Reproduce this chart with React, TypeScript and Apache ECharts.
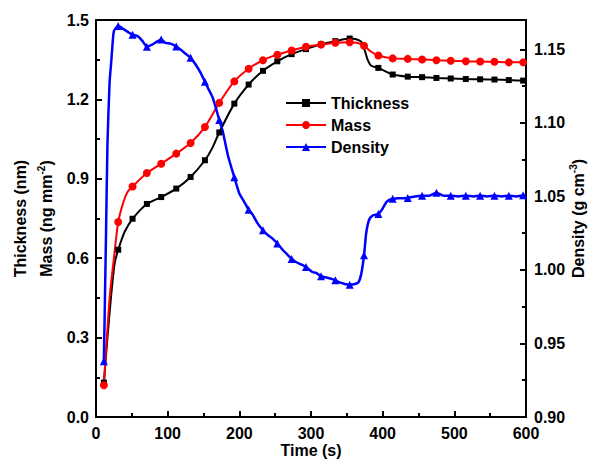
import React, { useEffect, useRef } from "react";
import * as echarts from "echarts";

// times (s) at which symbols are drawn
const markerTimes = [11, 31, 51, 71, 91, 112, 132, 152, 172, 193, 213, 233, 253, 273, 293, 314, 334, 354, 374, 394, 414, 435, 455, 475, 495, 516, 536, 556, 576, 596];

const thicknessTime = [11, 16, 21, 26, 31, 40, 51, 71, 91, 112, 132, 152, 162, 172, 193, 213, 233, 253, 273, 293, 314, 334, 354, 362, 370, 375, 379, 384, 394, 414, 435, 455, 475, 495, 516, 536, 556, 576, 596, 600];
const thicknessVal = [0.13, 0.30, 0.455, 0.58, 0.632, 0.70, 0.749, 0.805, 0.831, 0.863, 0.907, 0.970, 1.015, 1.075, 1.184, 1.256, 1.308, 1.344, 1.371, 1.390, 1.408, 1.420, 1.430, 1.428, 1.418, 1.385, 1.350, 1.327, 1.319, 1.294, 1.286, 1.284, 1.281, 1.279, 1.277, 1.276, 1.275, 1.273, 1.271, 1.271];

const massTime = [11, 19, 25, 31, 38, 44, 51, 71, 91, 112, 132, 152, 172, 193, 213, 233, 253, 273, 293, 314, 334, 354, 364, 374, 384, 394, 414, 435, 455, 475, 495, 516, 536, 556, 576, 596, 600];
const massVal = [0.12, 0.45, 0.60, 0.737, 0.81, 0.85, 0.871, 0.922, 0.957, 0.995, 1.035, 1.096, 1.187, 1.268, 1.316, 1.348, 1.369, 1.385, 1.399, 1.407, 1.414, 1.416, 1.414, 1.403, 1.38, 1.366, 1.355, 1.353, 1.351, 1.348, 1.346, 1.344, 1.343, 1.342, 1.340, 1.340, 1.340];

const densityTime = [11, 14, 16, 19, 21, 23, 25, 31, 34, 39, 46, 51, 58, 65, 71, 79, 86, 91, 97, 104, 112, 118, 125, 132, 139, 146, 152, 157, 163, 172, 177, 184, 193, 200, 206, 213, 219, 225, 233, 240, 246, 253, 261, 267, 273, 279, 286, 293, 302, 307, 314, 320, 327, 334, 340, 347, 354, 360, 366, 370, 374, 377, 381, 386, 394, 399, 405, 410, 414, 420, 435, 445, 455, 465, 475, 485, 495, 505, 516, 527, 536, 546, 556, 566, 576, 586, 596, 600];
const densityVal = [0.938, 1.025, 1.086, 1.128, 1.140, 1.153, 1.1625, 1.166, 1.1653, 1.1636, 1.1614, 1.160, 1.159, 1.1556, 1.1518, 1.1534, 1.1556, 1.1568, 1.1545, 1.1539, 1.152, 1.150, 1.147, 1.1443, 1.1397, 1.134, 1.128, 1.123, 1.117, 1.102, 1.094, 1.078, 1.063, 1.052, 1.047, 1.041, 1.0373, 1.032, 1.027, 1.0236, 1.0215, 1.018, 1.0134, 1.0105, 1.0075, 1.0054, 1.0038, 1.002, 0.9986, 0.998, 0.9958, 0.995, 0.9942, 0.993, 0.9915, 0.9905, 0.990, 0.9903, 0.9915, 0.997, 1.010, 1.025, 1.034, 1.037, 1.038, 1.041, 1.046, 1.0478, 1.0485, 1.0487, 1.049, 1.050, 1.0505, 1.0505, 1.0525, 1.0505, 1.0505, 1.050, 1.0505, 1.050, 1.0505, 1.050, 1.0505, 1.050, 1.0505, 1.050, 1.0508, 1.051];

const xTicks = { min: 0, max: 600, interval: 100 };
const leftTicks = { min: 0, max: 1.5, interval: 0.3 };
const rightTicks = { min: 0.9, max: 1.17, interval: 0.05 };

const FONT = "'Liberation Sans', Arial, sans-serif";

function toData(ts: number[], vs: number[]) {
  return ts.map((t, i) =>
    markerTimes.includes(t) ? { value: [t, vs[i]] } : { value: [t, vs[i]], symbol: "none" }
  );
}

const axisCommon = {
  axisLine: { show: true, lineStyle: { color: "#000", width: 2 } },
  axisTick: { show: true, inside: true, length: 6, lineStyle: { color: "#000", width: 2 } },
  minorTick: { show: true, splitNumber: 2, length: 4, lineStyle: { color: "#000", width: 2 } },
  splitLine: { show: false },
  minorSplitLine: { show: false },
  axisLabel: { color: "#000", fontSize: 16, fontWeight: "bold" as const, fontFamily: FONT },
  nameMoveOverlap: false,
};

export default function App() {
  const ref = useRef<HTMLDivElement>(null);
  useEffect(() => {
    document.body.style.margin = "0";
    const chart = echarts.init(ref.current!, null, { renderer: "svg" });
    const option: any = {
      animation: false,
      backgroundColor: "#fff",
      grid: {
        left: 96, right: 63, top: 20, bottom: 43,
        show: true, borderColor: "#000", borderWidth: 2,
        containLabel: false, outerBoundsMode: "none",
      },
      legend: {
        orient: "vertical",
        left: 285,
        top: 95,
        padding: 0,
        itemWidth: 40,
        itemHeight: 10,
        itemGap: 6,
        textStyle: { color: "#000", fontSize: 16, fontWeight: "bold", fontFamily: FONT },
        data: ["Thickness", "Mass", "Density"],
      },
      xAxis: {
        type: "value",
        ...xTicks,
        ...axisCommon,
        axisLabel: { ...axisCommon.axisLabel, margin: 8 },
        name: "Time (s)",
        nameLocation: "middle",
        nameGap: 25,
        nameTextStyle: { color: "#000", fontSize: 16, fontWeight: "bold", fontFamily: FONT },
      },
      yAxis: [
        {
          type: "value",
          position: "left",
          ...leftTicks,
          ...axisCommon,
          axisLabel: { ...axisCommon.axisLabel, margin: 7, formatter: (v: number) => v.toFixed(1) },
          name: "Thickness (nm)\nMass (ng mm{sup|-2})",
          nameLocation: "middle",
          nameRotate: 90,
          nameGap: 37,
          nameTextStyle: {
            color: "#000", fontSize: 16, fontWeight: "bold", fontFamily: FONT, lineHeight: 26,
            rich: { sup: { fontSize: 10, fontWeight: "bold", fontFamily: FONT, color: "#000", lineHeight: 26, padding: [0, 0, 9, 0] } },
          },
        },
        {
          type: "value",
          position: "right",
          ...rightTicks,
          ...axisCommon,
          axisLabel: { ...axisCommon.axisLabel, margin: 8, showMaxLabel: false, formatter: (v: number) => v.toFixed(2) },
          name: "Density (g cm{sup|-3})",
          nameLocation: "middle",
          nameRotate: 90,
          nameGap: 43,
          nameTextStyle: {
            color: "#000", fontSize: 16, fontWeight: "bold", fontFamily: FONT, lineHeight: 18,
            rich: { sup: { fontSize: 10, fontWeight: "bold", fontFamily: FONT, color: "#000", lineHeight: 18, padding: [0, 0, 9, 0] } },
          },
        },
      ],
      series: [
        {
          name: "Thickness",
          type: "line",
          yAxisIndex: 0,
          data: toData(thicknessTime, thicknessVal),
          symbol: "rect",
          symbolSize: 6,
          showAllSymbol: true,
          smooth: 0.25,
          lineStyle: { color: "#000", width: 2 },
          itemStyle: { color: "#000" },
        },
        {
          name: "Mass",
          type: "line",
          yAxisIndex: 0,
          data: toData(massTime, massVal),
          symbol: "circle",
          symbolSize: 8,
          showAllSymbol: true,
          smooth: 0.25,
          lineStyle: { color: "#ff0000", width: 2 },
          itemStyle: { color: "#ff0000" },
        },
        {
          name: "Density",
          type: "line",
          yAxisIndex: 1,
          data: toData(densityTime, densityVal),
          symbol: "triangle",
          symbolSize: 8,
          showAllSymbol: true,
          smooth: 0.2,
          lineStyle: { color: "#0000ff", width: 2.5 },
          itemStyle: { color: "#0000ff" },
        },
      ],
    };
    chart.setOption(option);
    return () => chart.dispose();
  }, []);
  return <div ref={ref} style={{ width: 589, height: 460, background: "#fff" }} />;
}
